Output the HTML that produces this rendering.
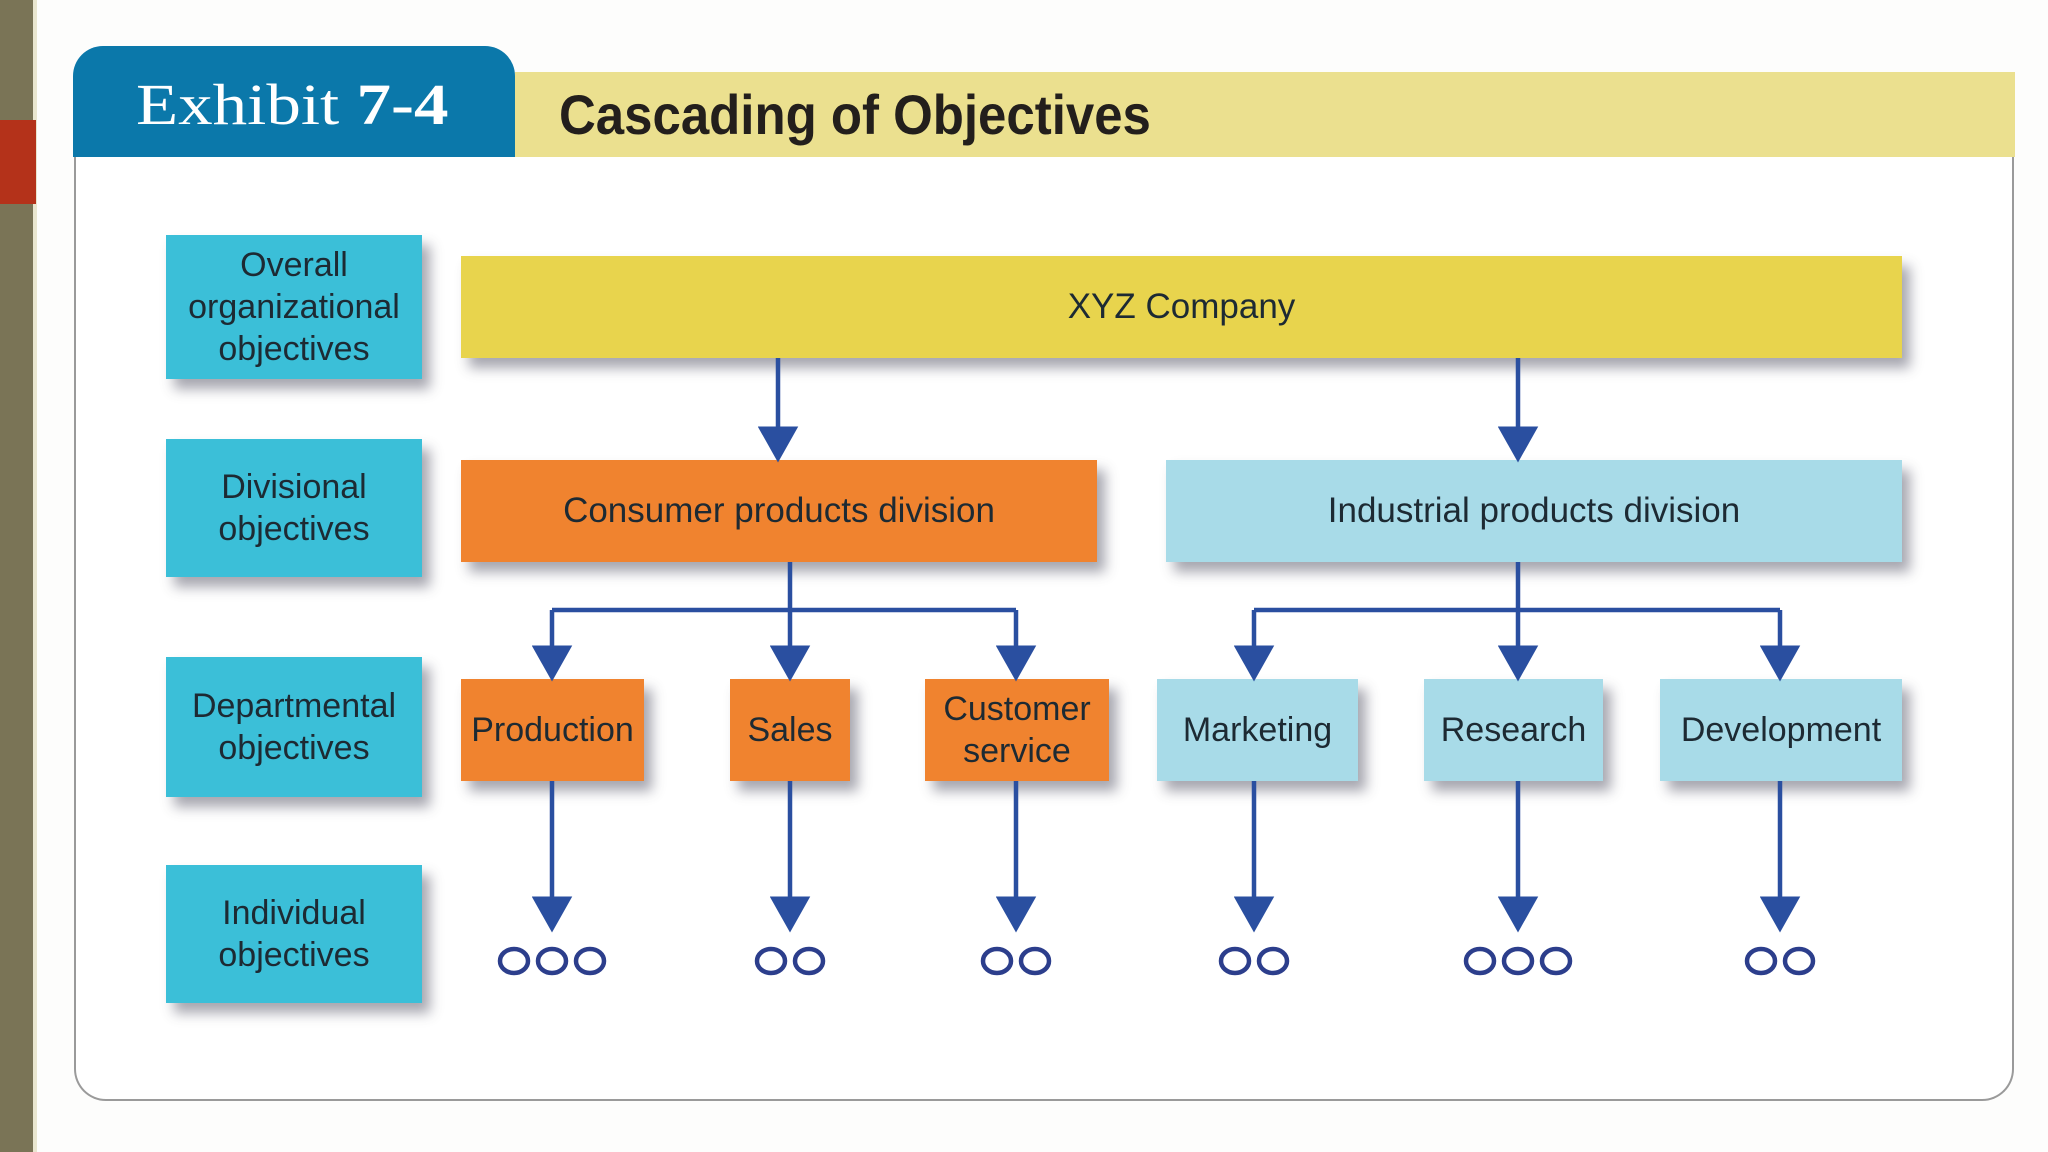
<!DOCTYPE html>
<html><head><meta charset="utf-8"><style>
*{margin:0;padding:0;box-sizing:border-box}
body{width:2048px;height:1152px;background:#fdfdfc;position:relative;overflow:hidden;font-family:"Liberation Sans",sans-serif}
.a{position:absolute}
.box{position:absolute;display:flex;align-items:center;justify-content:center;text-align:center;color:#1d2a33;box-shadow:8px 10px 12px rgba(60,60,80,.45)}
.lab{background:#3bbfd8;font-size:34px;line-height:42px;left:166px;width:256px}
</style></head><body>
<div class="a" style="left:0;top:0;width:33px;height:1152px;background:#7a7456"></div>
<div class="a" style="left:33px;top:0;width:4px;height:1152px;background:#e9e6cf"></div>
<div class="a" style="left:0;top:120px;width:36px;height:84px;background:#b4321a"></div>
<div class="a" style="left:74px;top:150px;width:1940px;height:951px;border:2px solid #9a9a9a;border-top:none;border-radius:0 0 32px 32px;background:#fff"></div>
<div class="a" style="left:73px;top:46px;width:442px;height:111px;background:#0b78aa;border-radius:30px 30px 0 0"></div>
<div class="a" style="left:136px;top:70px;font-family:'Liberation Serif',serif;font-size:58px;color:#fff;line-height:70px;transform:scaleX(1.19);transform-origin:left;white-space:nowrap">Exhibit <b>7-4</b></div>
<div class="a" style="left:515px;top:72px;width:1500px;height:85px;background:#ebe08f"></div>
<div class="a" style="left:559px;top:82px;font-weight:bold;font-size:56px;line-height:66px;color:#231f1c;transform:scaleX(0.91);transform-origin:left;white-space:nowrap">Cascading of Objectives</div>

<div class="box lab" style="top:235px;height:144px">Overall<br>organizational<br>objectives</div>
<div class="box lab" style="top:439px;height:138px">Divisional<br>objectives</div>
<div class="box lab" style="top:657px;height:140px">Departmental<br>objectives</div>
<div class="box lab" style="top:865px;height:138px">Individual<br>objectives</div>

<div class="box" style="left:461px;top:256px;width:1441px;height:102px;background:#e8d44d;font-size:35px">XYZ Company</div>
<div class="box" style="left:461px;top:460px;width:636px;height:102px;background:#f0832f;font-size:35px">Consumer products division</div>
<div class="box" style="left:1166px;top:460px;width:736px;height:102px;background:#a8dbe8;font-size:35px">Industrial products division</div>

<div class="box" style="left:461px;top:679px;width:183px;height:102px;background:#f0832f;font-size:34px">Production</div>
<div class="box" style="left:730px;top:679px;width:120px;height:102px;background:#f0832f;font-size:34px">Sales</div>
<div class="box" style="left:925px;top:679px;width:184px;height:102px;background:#f0832f;font-size:34px;line-height:42px">Customer<br>service</div>
<div class="box" style="left:1157px;top:679px;width:201px;height:102px;background:#a8dbe8;font-size:34px">Marketing</div>
<div class="box" style="left:1424px;top:679px;width:179px;height:102px;background:#a8dbe8;font-size:34px">Research</div>
<div class="box" style="left:1660px;top:679px;width:242px;height:102px;background:#a8dbe8;font-size:34px">Development</div>

<svg class="a" style="left:0;top:0" width="2048" height="1152">
<defs><marker id="h" markerWidth="8" markerHeight="9" refX="7" refY="4.5" orient="auto" markerUnits="strokeWidth"><path d="M0,0 L8,4.5 L0,9Z" fill="#2a4fa0"/></marker></defs>
<g stroke="#2a4fa0" stroke-width="4.5" fill="none">
<line x1="778" y1="358" x2="778" y2="458" marker-end="url(#h)"/>
<line x1="1518" y1="358" x2="1518" y2="458" marker-end="url(#h)"/>
<line x1="790" y1="562" x2="790" y2="610"/>
<line x1="552" y1="610" x2="1016" y2="610"/>
<line x1="552" y1="610" x2="552" y2="677" marker-end="url(#h)"/>
<line x1="790" y1="610" x2="790" y2="677" marker-end="url(#h)"/>
<line x1="1016" y1="610" x2="1016" y2="677" marker-end="url(#h)"/>
<line x1="1518" y1="562" x2="1518" y2="610"/>
<line x1="1254" y1="610" x2="1780" y2="610"/>
<line x1="1254" y1="610" x2="1254" y2="677" marker-end="url(#h)"/>
<line x1="1518" y1="610" x2="1518" y2="677" marker-end="url(#h)"/>
<line x1="1780" y1="610" x2="1780" y2="677" marker-end="url(#h)"/>
<line x1="552" y1="781" x2="552" y2="928" marker-end="url(#h)"/>
<line x1="790" y1="781" x2="790" y2="928" marker-end="url(#h)"/>
<line x1="1016" y1="781" x2="1016" y2="928" marker-end="url(#h)"/>
<line x1="1254" y1="781" x2="1254" y2="928" marker-end="url(#h)"/>
<line x1="1518" y1="781" x2="1518" y2="928" marker-end="url(#h)"/>
<line x1="1780" y1="781" x2="1780" y2="928" marker-end="url(#h)"/>
</g>
<g stroke="#2c3e8c" stroke-width="4.5" fill="none">
<ellipse cx="514" cy="961" rx="14" ry="12"/><ellipse cx="552" cy="961" rx="14" ry="12"/><ellipse cx="590" cy="961" rx="14" ry="12"/>
<ellipse cx="771" cy="961" rx="14" ry="12"/><ellipse cx="809" cy="961" rx="14" ry="12"/>
<ellipse cx="997" cy="961" rx="14" ry="12"/><ellipse cx="1035" cy="961" rx="14" ry="12"/>
<ellipse cx="1235" cy="961" rx="14" ry="12"/><ellipse cx="1273" cy="961" rx="14" ry="12"/>
<ellipse cx="1480" cy="961" rx="14" ry="12"/><ellipse cx="1518" cy="961" rx="14" ry="12"/><ellipse cx="1556" cy="961" rx="14" ry="12"/>
<ellipse cx="1761" cy="961" rx="14" ry="12"/><ellipse cx="1799" cy="961" rx="14" ry="12"/>
</g>
</svg>
</body></html>
